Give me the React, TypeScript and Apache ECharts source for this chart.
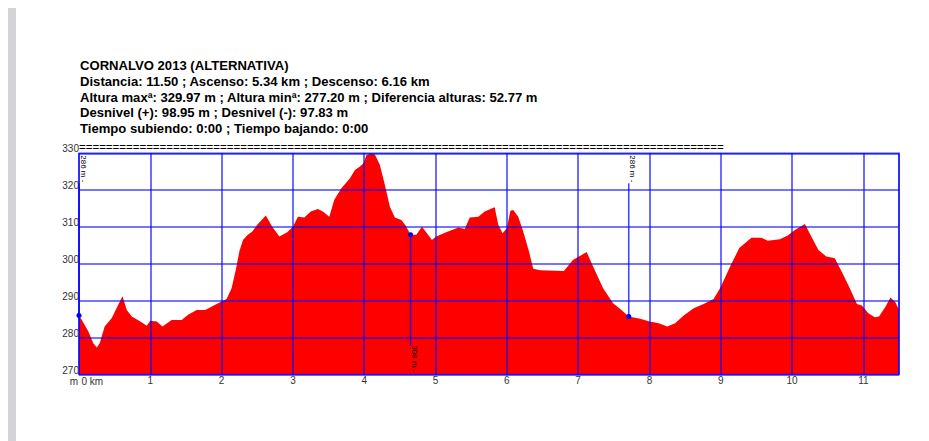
import React, { useEffect, useRef } from "react";
import * as echarts from "echarts";

const titleLines = [
  "CORNALVO 2013 (ALTERNATIVA)",
  "Distancia: 11.50 ; Ascenso: 5.34 km ; Descenso: 6.16 km",
  "Altura maxª: 329.97 m ; Altura minª: 277.20 m ; Diferencia alturas: 52.77 m",
  "Desnivel (+): 98.95 m ; Desnivel (-): 97.83 m",
  "Tiempo subiendo: 0:00 ; Tiempo bajando: 0:00",
];

const distKm = [
  0, 0.04, 0.13, 0.2, 0.25, 0.29, 0.36, 0.46, 0.55, 0.61, 0.67, 0.74, 0.86, 0.95,
  1.0, 1.09, 1.17, 1.3, 1.44, 1.53, 1.65, 1.77, 1.91, 2.0, 2.07, 2.14, 2.2, 2.25,
  2.3, 2.36, 2.43, 2.5, 2.62, 2.71, 2.81, 2.92, 3.0, 3.07, 3.16, 3.25, 3.35, 3.42,
  3.51, 3.58, 3.68, 3.8, 3.87, 3.94, 3.99, 4.03, 4.09, 4.15, 4.22, 4.29, 4.36,
  4.43, 4.52, 4.58, 4.65, 4.73, 4.81, 4.88, 4.95, 5.01, 5.15, 5.32, 5.41, 5.48,
  5.6, 5.69, 5.77, 5.83, 5.88, 5.94, 6.0, 6.05, 6.09, 6.16, 6.23, 6.31, 6.37,
  6.47, 6.8, 6.93, 7.12, 7.21, 7.35, 7.49, 7.59, 7.71, 7.87, 8.0, 8.13, 8.25,
  8.36, 8.48, 8.62, 8.76, 8.9, 8.99, 9.09, 9.14, 9.26, 9.43, 9.57, 9.66, 9.83,
  9.94, 10.04, 10.18, 10.27, 10.37, 10.48, 10.6, 10.72, 10.81, 10.91, 10.98,
  11.07, 11.16, 11.22, 11.31, 11.38, 11.45, 11.5,
];

const elevM = [
  286, 284.8, 281.7, 278.5, 277.3, 278.5, 283, 285.3, 288.9, 291.2, 287.5, 285.7, 284.4, 283.2,
  284.6, 284.4, 283, 284.8, 284.8, 286.2, 287.5, 287.5, 288.9, 289.8, 290.5, 293.4, 298.5, 303.5,
  306.5, 307.8, 308.8, 310.6, 313.1, 310.1, 307.4, 308.6, 310.1, 312.8, 312.6, 314.2, 314.9, 314.2,
  312.8, 317.4, 320.5, 323.2, 325.5, 326.4, 327.3, 329.5, 329.97, 329.7, 326.8, 321.4, 315.5,
  312.6, 311.9, 310.4, 307.9, 307.9, 310.1, 308.3, 306.5, 307.4, 308.6, 309.9, 309.5, 312.6,
  312.8, 314.2, 314.9, 315.4, 310.6, 308.3, 309.7, 314.4, 314.6, 312.8, 308.8, 303.4, 298.7,
  298.3, 298.1, 301.1, 303.2, 299.3, 293.4, 289.3, 287.8, 285.7, 285.1, 284.4, 283.9, 283,
  283.9, 286, 288, 289.1, 290.5, 293.4, 297.5, 299.6, 304.3, 307.1, 307.1, 306.3, 306.7,
  307.7, 309.2, 310.8, 307.4, 303.8, 302, 301.5, 297, 293.4, 289.1, 288.7,
  286.6, 285.5, 285.7, 288.4, 290.9, 289.6, 287.5,
];

const markerKm = [0, 4.65, 7.71];
const markerElev = [286, 307.9, 285.7];
const markerLabels = ["286 m -", "308 m -", "286 m -"];
const markerDir = [1, -1, 1]; // 1: label at top, -1: label at bottom

const FONT = "Liberation Sans, Arial, sans-serif";
const BLUE = "rgba(0,0,255,0.72)";

export default function App() {
  const ref = useRef<HTMLDivElement>(null);

  useEffect(() => {
    if (!ref.current) return;
    const chart = echarts.init(ref.current, undefined, { renderer: "svg" });

    const option: any = {
      animation: false,
      backgroundColor: "#ffffff",
      textStyle: { fontFamily: FONT },
      title: [
        {
          left: 80,
          top: 58,
          padding: 0,
          text: titleLines.join("\n"),
          textStyle: {
            fontFamily: FONT,
            fontSize: 13.1,
            fontWeight: "bold",
            lineHeight: 15.7,
            color: "#000",
          },
        },
        {
          left: 79,
          top: 140.7,
          padding: 0,
          text: "=".repeat(96),
          textStyle: {
            fontFamily: FONT,
            fontSize: 11.5,
            fontWeight: "normal",
            lineHeight: 12,
            color: "#000",
          },
        },
      ],
      graphic: [
        {
          type: "rect",
          shape: { x: 8, y: 8, width: 8, height: 433 },
          style: { fill: "#d4d4d8" },
          silent: true,
        },
        {
          type: "text",
          x: 78,
          y: 381,
          style: {
            text: "m",
            fontSize: 10,
            fontFamily: FONT,
            fill: "#333",
            align: "right",
            verticalAlign: "middle",
          },
        },
        {
          type: "text",
          x: 81.5,
          y: 381,
          style: {
            text: "0 km",
            fontSize: 10,
            fontFamily: FONT,
            fill: "#333",
            align: "left",
            verticalAlign: "middle",
          },
        },
      ],
      grid: {
        left: 79,
        top: 153.3,
        right: 30,
        bottom: 66.5,
        show: true,
        z: 3,
        backgroundColor: "transparent",
        borderColor: BLUE,
        borderWidth: 1.6,
      },
      xAxis: {
        type: "value",
        min: 0,
        max: 11.5,
        interval: 1,
        z: 3,
        axisLine: { show: false },
        axisTick: { show: false },
        splitLine: { show: true, lineStyle: { color: BLUE, width: 1.6 } },
        axisLabel: {
          margin: 1,
          fontSize: 10,
          lineHeight: 10,
          color: "#333",
          fontFamily: FONT,
          showMaxLabel: false,
          formatter: (v: number) => (v > 0 && Number.isInteger(v) ? String(v) : ""),
        },
      },
      yAxis: {
        type: "value",
        min: 270,
        max: 330,
        interval: 10,
        z: 3,
        axisLine: { show: false },
        axisTick: { show: false },
        splitLine: { show: true, lineStyle: { color: BLUE, width: 1.6 } },
        axisLabel: {
          margin: 0,
          fontSize: 10,
          lineHeight: 9,
          verticalAlign: "bottom",
          color: "#333",
          fontFamily: FONT,
        },
      },
      series: [
        {
          type: "line",
          data: distKm.map((d, i) => [d, elevM[i]]),
          showSymbol: false,
          smooth: false,
          z: 2,
          lineStyle: { width: 0, color: "#ff0000" },
          areaStyle: { color: "#ff0000", opacity: 1, origin: "start" },
        },
        {
          type: "custom",
          z: 5,
          clip: false,
          data: markerKm.map((k, i) => [k, markerElev[i], markerDir[i]]),
          renderItem: (params: any, api: any) => {
            const i = params.dataIndex;
            const x = api.value(0);
            const y = api.value(1);
            const dir = api.value(2);
            const p = api.coord([x, y]);
            const topY = api.coord([x, 330])[1];
            const botY = api.coord([x, 270])[1];
            const lineEnd = dir > 0 ? topY + 30 : botY - 29;
            const textY = dir > 0 ? topY + 2 : botY - 2;
            return {
              type: "group",
              children: [
                {
                  type: "line",
                  shape: { x1: p[0], y1: p[1], x2: p[0], y2: lineEnd },
                  style: { stroke: BLUE, lineWidth: 1.6 },
                },
                {
                  type: "text",
                  x: p[0],
                  y: textY,
                  rotation: -Math.PI / 2,
                  style: {
                    text: markerLabels[i],
                    fontSize: 8,
                    fontFamily: FONT,
                    fill: "#000",
                    align: dir > 0 ? "left" : "right",
                    verticalAlign: "bottom",
                  },
                },
                {
                  type: "circle",
                  shape: { cx: p[0], cy: p[1], r: 2.6 },
                  style: { fill: "#0000ff" },
                },
              ],
            };
          },
        },
      ],
    };

    chart.setOption(option);
    return () => chart.dispose();
  }, []);

  return (
    <div
      ref={ref}
      style={{ position: "absolute", left: 0, top: 0, width: 929, height: 441 }}
    />
  );
}
